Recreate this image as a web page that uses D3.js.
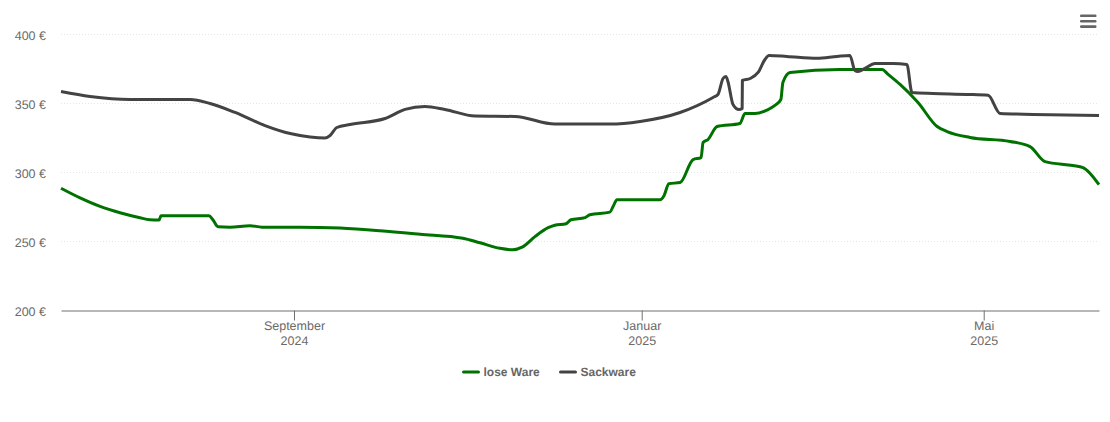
<!DOCTYPE html>
<html><head><meta charset="utf-8">
<script src="https://cdn.jsdelivr.net/npm/d3@7"></script>
<style>
html,body{margin:0;padding:0;background:#fff}
svg{display:block}
text{font-family:"Liberation Sans",Arial,sans-serif;text-rendering:geometricPrecision}
</style></head><body>
<svg id="c" width="1110" height="422"></svg>
<script>
const startDate = new Date(Date.UTC(2024,5,11,6));
const endDay = 364.2;
const looseDays = [0,6.7,13.7,20.7,27.7,31.2,34.4,35.1,51.9,53.3,55.1,59.3,66.3,70.5,83.9,97.9,111.9,126,141,147,154,158.6,161.8,166.3,170.9,173.3,177.2,178.9,183.9,185.6,192.6,193.7,195.1,210.2,211.6,213.3,217.2,221.8,224.6,225.3,227,230.2,238.2,240,243.5,248.1,250.5,252.6,253.3,255.8,273.3,288.1,290.2,294.4,300.7,307.4,310.9,318.9,333,340,345.3,355.1,358.6,364.2];
const looseValues = [288.6,281.6,275.4,270.8,267.2,265.8,265.5,268.7,268.7,265.8,260.7,260.4,261.5,260.4,260.4,259.7,257.8,255.3,252.4,249.1,245.1,244,245.9,253.5,260,261.8,262.9,265.8,267.3,269.4,271.3,275.3,280.3,280.3,283.2,291.9,292.7,309.4,310.8,321.7,323.9,333.3,335.5,342.7,342.7,345.6,348.6,352.9,365.2,372.5,374.7,374.7,371.1,363.8,350.7,333.3,329.7,325.4,322.5,318.8,307.9,305,303.6,291.2];
const sackDays = [0,10.2,24.2,45.3,52.3,61.1,71.6,80.4,87.4,92.6,94.4,96.8,101.4,113.7,120.7,127.7,134.7,145.3,159.3,173.3,192.6,203.2,217.2,228.8,230.5,232.3,233.3,234,235.8,237.9,239,239.1,241.8,244.6,247,248.4,254.7,265.3,272.3,276.8,278.6,279.6,282.1,285.6,291.9,296.8,298.6,306,317.9,325.3,329.5,341.1,364.2];
const sackValues = [358.7,355.1,352.9,352.9,350,343.5,334,328.2,325.7,325,326.8,332.6,334.8,339.1,345.7,347.9,345.7,340.9,340.6,335.1,335.1,337,343.5,354.4,356.5,368.1,369.6,366,349.3,345.6,346.4,366.7,368.1,372.5,381.9,384.8,384.1,382.7,384.1,384.8,373.9,373.2,375.4,379,379,378.3,358,357.3,356.6,355.9,342.8,342.1,341.3];
const yTicks = [200,250,300,350,400];
const xTicks = [[2024,8,"September","2024"],[2025,0,"Januar","2025"],[2025,4,"Mai","2025"]];
const seriesNames = ["lose Ware","Sackware"];
const colors = ["#007200","#434343"];

const svg = d3.select("#c");
const dayToDate = d => d3.utcHour.offset(startDate, Math.round(d*24));
const x = d3.scaleUtc().domain([startDate, dayToDate(endDay)]).range([61,1099]);
const y = d3.scaleLinear().domain([200,400]).range([310.5,34.5]);

// grid
svg.append("g").selectAll("line").data(yTicks.slice(1)).join("line")
  .attr("x1",61).attr("x2",1099)
  .attr("y1",d=>y(d)).attr("y2",d=>y(d))
  .attr("stroke","#e6e6e6").attr("stroke-width",1).attr("stroke-dasharray","1,2");

// y axis
const gy = svg.append("g").attr("transform","translate(46,0)")
  .call(d3.axisLeft(y).tickValues(yTicks).tickSize(0).tickPadding(0).tickFormat(d=>d+" €"));
gy.select(".domain").remove();
gy.selectAll("text").attr("font-size",12.5).attr("fill","#6a6a6a").style("font-family",'"Liberation Sans",Arial,sans-serif')
  .attr("dy","0.4em");

// x axis
const tickDates = xTicks.map(t=>new Date(Date.UTC(t[0],t[1],1)));
const gx = svg.append("g").attr("transform","translate(0,310.5)")
  .call(d3.axisBottom(x).tickValues(tickDates).tickSize(10).tickSizeOuter(0).tickFormat(""));
gx.select(".domain").attr("stroke","#707070").attr("stroke-width",1);
gx.selectAll(".tick line").attr("stroke","#707070").attr("stroke-width",1);
gx.selectAll(".tick text").each(function(d,i){
  const t = d3.select(this).attr("y",0).attr("dy",null).attr("font-size",12.5).attr("fill","#6a6a6a")
    .style("font-family",'"Liberation Sans",Arial,sans-serif');
  t.append("tspan").attr("x",0).attr("y",19.5).text(xTicks[i][2]);
  t.append("tspan").attr("x",0).attr("y",34.5).text(xTicks[i][3]);
});

// lines
const line = d3.line().x(d=>x(dayToDate(d[0]))).y(d=>y(d[1])).curve(d3.curveMonotoneX);
[[looseDays,looseValues],[sackDays,sackValues]].forEach((s,i)=>{
  svg.append("path").datum(d3.zip(s[0],s[1]))
    .attr("d",line).attr("fill","none").attr("stroke",colors[i])
    .attr("stroke-width",3).attr("stroke-linejoin","round").attr("stroke-linecap","butt");
});

// legend
const legX = [463.5,560.5];
seriesNames.forEach((n,i)=>{
  const g = svg.append("g").attr("transform",`translate(${legX[i]},372)`);
  g.append("line").attr("x1",0).attr("x2",15).attr("stroke",colors[i]).attr("stroke-width",3).attr("stroke-linecap","round");
  g.append("text").attr("x",20).attr("y",4).attr("font-size",12).attr("font-weight","bold").attr("fill","#666").text(n);
});

// menu icon
svg.append("g").selectAll("rect").data([0,1,2]).join("rect")
  .attr("x",1080).attr("y",d=>14.5+d*5.4).attr("width",16.5).attr("height",2.6).attr("rx",1.2).attr("fill","#666");
</script>
</body></html>
